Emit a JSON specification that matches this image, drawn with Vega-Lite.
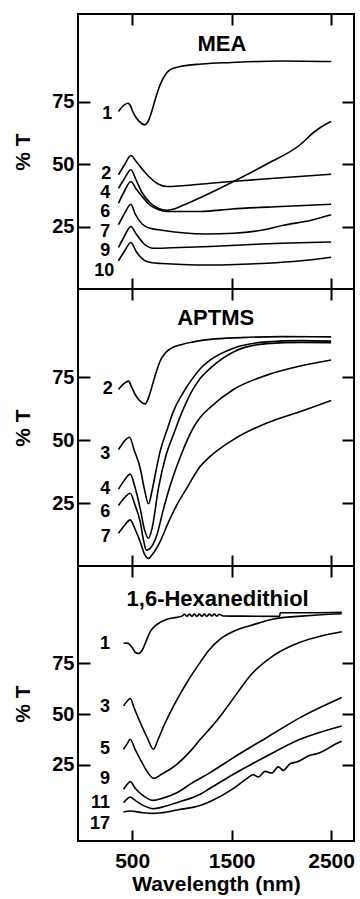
{
  "$schema": "https://vega.github.io/schema/vega-lite/v6.json",
  "background": "white",
  "padding": {"left": 11, "top": 12, "right": 0, "bottom": 0},
  "spacing": 0,
  "bounds": "flush",
  "config": {
    "view": {"stroke": "black", "strokeWidth": 2},
    "axis": {"grid": false, "domain": false, "tickColor": "black", "tickWidth": 2, "labelFont": "Liberation Sans", "labelFontWeight": "bold", "labelFontSize": 20, "labelColor": "black", "titleFont": "Liberation Sans", "titleFontWeight": "bold", "titleFontSize": 21, "titleColor": "black", "format": "d"}
  },
  "datasets": {
    "mea": [
      {"c":"1","x":362,"y":71},{"c":"1","x":410,"y":73.3},{"c":"1","x":455,"y":74.3},{"c":"1","x":480,"y":73.5},{"c":"1","x":505,"y":71},{"c":"1","x":540,"y":68.5},{"c":"1","x":585,"y":66.5},{"c":"1","x":625,"y":65.7},{"c":"1","x":660,"y":67},{"c":"1","x":700,"y":71.5},{"c":"1","x":740,"y":77},{"c":"1","x":781,"y":81.7},{"c":"1","x":830,"y":85.5},{"c":"1","x":880,"y":87.7},{"c":"1","x":982,"y":89},{"c":"1","x":1200,"y":90},{"c":"1","x":1500,"y":90.6},{"c":"1","x":2000,"y":91.2},{"c":"1","x":2500,"y":91},
      {"c":"2","x":362,"y":45.7},{"c":"2","x":420,"y":49.5},{"c":"2","x":487,"y":53.4},{"c":"2","x":540,"y":51},{"c":"2","x":600,"y":48},{"c":"2","x":680,"y":44.5},{"c":"2","x":760,"y":42},{"c":"2","x":849,"y":41},{"c":"2","x":1000,"y":41.3},{"c":"2","x":1284,"y":42.3},{"c":"2","x":1600,"y":43.3},{"c":"2","x":2000,"y":44.5},{"c":"2","x":2500,"y":45.9},
      {"c":"4","x":362,"y":40.3},{"c":"4","x":420,"y":44},{"c":"4","x":487,"y":47.7},{"c":"4","x":540,"y":43.5},{"c":"4","x":600,"y":38.5},{"c":"4","x":680,"y":34.5},{"c":"4","x":760,"y":32.3},{"c":"4","x":850,"y":31.5},{"c":"4","x":900,"y":31.8},{"c":"4","x":1000,"y":33.3},{"c":"4","x":1183,"y":36.5},{"c":"4","x":1518,"y":43},{"c":"4","x":1854,"y":50},{"c":"4","x":2188,"y":57.7},{"c":"4","x":2320,"y":62.5},{"c":"4","x":2400,"y":64.8},{"c":"4","x":2500,"y":67},
      {"c":"6","x":362,"y":34.3},{"c":"6","x":420,"y":39},{"c":"6","x":487,"y":43},{"c":"6","x":540,"y":40},{"c":"6","x":600,"y":37},{"c":"6","x":680,"y":33.5},{"c":"6","x":760,"y":31.8},{"c":"6","x":850,"y":31},{"c":"6","x":1183,"y":31},{"c":"6","x":1500,"y":32},{"c":"6","x":2000,"y":33},{"c":"6","x":2500,"y":33.9},
      {"c":"7","x":362,"y":25.7},{"c":"7","x":420,"y":30},{"c":"7","x":487,"y":33.9},{"c":"7","x":530,"y":30},{"c":"7","x":600,"y":26},{"c":"7","x":681,"y":24.3},{"c":"7","x":800,"y":23.5},{"c":"7","x":1000,"y":22.5},{"c":"7","x":1250,"y":22},{"c":"7","x":1518,"y":22.3},{"c":"7","x":1800,"y":23.5},{"c":"7","x":2020,"y":25.5},{"c":"7","x":2300,"y":27.5},{"c":"7","x":2500,"y":29.7},
      {"c":"9","x":362,"y":16.6},{"c":"9","x":420,"y":21},{"c":"9","x":487,"y":25},{"c":"9","x":540,"y":22},{"c":"9","x":620,"y":18},{"c":"9","x":714,"y":16.3},{"c":"9","x":900,"y":16.5},{"c":"9","x":1284,"y":17},{"c":"9","x":1800,"y":18},{"c":"9","x":2500,"y":18.8},
      {"c":"10","x":362,"y":11.3},{"c":"10","x":420,"y":15},{"c":"10","x":487,"y":18.6},{"c":"10","x":540,"y":15},{"c":"10","x":620,"y":11.5},{"c":"10","x":700,"y":10.5},{"c":"10","x":800,"y":10.2},{"c":"10","x":1000,"y":9.8},{"c":"10","x":1300,"y":9.6},{"c":"10","x":1600,"y":9.9},{"c":"10","x":1854,"y":10.3},{"c":"10","x":2200,"y":11.3},{"c":"10","x":2500,"y":12.7}
    ],
    "aptms": [
      {"c":"2","x":362,"y":70.1},{"c":"2","x":420,"y":72.5},{"c":"2","x":463,"y":73.4},{"c":"2","x":495,"y":71},{"c":"2","x":530,"y":68.1},{"c":"2","x":580,"y":65.5},{"c":"2","x":631,"y":64.4},{"c":"2","x":670,"y":67.5},{"c":"2","x":714,"y":73.4},{"c":"2","x":750,"y":78},{"c":"2","x":781,"y":81.4},{"c":"2","x":830,"y":84.5},{"c":"2","x":882,"y":86.2},{"c":"2","x":1000,"y":88},{"c":"2","x":1116,"y":89},{"c":"2","x":1284,"y":90},{"c":"2","x":1600,"y":90.7},{"c":"2","x":2000,"y":91.1},{"c":"2","x":2500,"y":91},
      {"c":"3","x":362,"y":46.2},{"c":"3","x":420,"y":49.5},{"c":"3","x":473,"y":51.1},{"c":"3","x":520,"y":46},{"c":"3","x":580,"y":38.9},{"c":"3","x":620,"y":31},{"c":"3","x":664,"y":24.7},{"c":"3","x":700,"y":30},{"c":"3","x":740,"y":38},{"c":"3","x":781,"y":45.5},{"c":"3","x":850,"y":54},{"c":"3","x":915,"y":61.5},{"c":"3","x":1000,"y":68},{"c":"3","x":1116,"y":75},{"c":"3","x":1200,"y":79},{"c":"3","x":1284,"y":81.8},{"c":"3","x":1518,"y":86.5},{"c":"3","x":1854,"y":89},{"c":"3","x":2200,"y":89.5},{"c":"3","x":2500,"y":89.3},
      {"c":"4","x":362,"y":30.5},{"c":"4","x":420,"y":34},{"c":"4","x":480,"y":36.5},{"c":"4","x":530,"y":31},{"c":"4","x":580,"y":22.9},{"c":"4","x":620,"y":15},{"c":"4","x":664,"y":11},{"c":"4","x":700,"y":15},{"c":"4","x":764,"y":30.9},{"c":"4","x":840,"y":44},{"c":"4","x":915,"y":52.2},{"c":"4","x":1000,"y":61},{"c":"4","x":1116,"y":70.5},{"c":"4","x":1183,"y":74.5},{"c":"4","x":1284,"y":78.5},{"c":"4","x":1518,"y":85},{"c":"4","x":1854,"y":88.3},{"c":"4","x":2200,"y":88.8},{"c":"4","x":2500,"y":88.7},
      {"c":"6","x":362,"y":24},{"c":"6","x":420,"y":27},{"c":"6","x":480,"y":28.9},{"c":"6","x":530,"y":24},{"c":"6","x":580,"y":17.6},{"c":"6","x":615,"y":10},{"c":"6","x":641,"y":6.3},{"c":"6","x":680,"y":7},{"c":"6","x":748,"y":12.3},{"c":"6","x":810,"y":22},{"c":"6","x":882,"y":32},{"c":"6","x":1000,"y":45},{"c":"6","x":1116,"y":55},{"c":"6","x":1183,"y":59},{"c":"6","x":1284,"y":63},{"c":"6","x":1518,"y":70.1},{"c":"6","x":1854,"y":75.8},{"c":"6","x":2200,"y":79.5},{"c":"6","x":2500,"y":81.8},
      {"c":"7","x":362,"y":13},{"c":"7","x":420,"y":16},{"c":"7","x":480,"y":18.3},{"c":"7","x":530,"y":14.5},{"c":"7","x":580,"y":9.7},{"c":"7","x":620,"y":5},{"c":"7","x":664,"y":3},{"c":"7","x":700,"y":4.5},{"c":"7","x":781,"y":9.7},{"c":"7","x":860,"y":17},{"c":"7","x":949,"y":24.3},{"c":"7","x":1050,"y":31},{"c":"7","x":1116,"y":35.5},{"c":"7","x":1183,"y":39.5},{"c":"7","x":1284,"y":43.5},{"c":"7","x":1518,"y":50.2},{"c":"7","x":1854,"y":56.8},{"c":"7","x":2200,"y":61.5},{"c":"7","x":2500,"y":65.7}
    ],
    "hdt": [
      {"c":"1","x":413,"y":84.9},{"c":"1","x":450,"y":85},{"c":"1","x":490,"y":83.5},{"c":"1","x":530,"y":80.5},{"c":"1","x":563,"y":79.9},{"c":"1","x":600,"y":81.5},{"c":"1","x":640,"y":86},{"c":"1","x":680,"y":90.5},{"c":"1","x":730,"y":93.5},{"c":"1","x":781,"y":95.2},{"c":"1","x":850,"y":96.8},{"c":"1","x":949,"y":97.7},{"c":"1","x":1000,"y":98.3},{"c":"1","x":1025,"y":99.2},{"c":"1","x":1050,"y":98.2},{"c":"1","x":1075,"y":99.3},{"c":"1","x":1100,"y":98.2},{"c":"1","x":1125,"y":99.3},{"c":"1","x":1150,"y":98.2},{"c":"1","x":1175,"y":99.3},{"c":"1","x":1200,"y":98.2},{"c":"1","x":1225,"y":99.3},{"c":"1","x":1250,"y":98.2},{"c":"1","x":1275,"y":99.3},{"c":"1","x":1300,"y":98.3},{"c":"1","x":1325,"y":99.3},{"c":"1","x":1350,"y":98.3},{"c":"1","x":1375,"y":99.2},{"c":"1","x":1414,"y":98.4},{"c":"1","x":1600,"y":98.3},{"c":"1","x":1980,"y":98.2},{"c":"1","x":1990,"y":100},{"c":"1","x":2300,"y":100},{"c":"1","x":2607,"y":100.2},
      {"c":"3","x":413,"y":54.1},{"c":"3","x":450,"y":56.5},{"c":"3","x":480,"y":57.7},{"c":"3","x":520,"y":53},{"c":"3","x":580,"y":46},{"c":"3","x":650,"y":38.5},{"c":"3","x":714,"y":32.7},{"c":"3","x":760,"y":37.5},{"c":"3","x":820,"y":44.5},{"c":"3","x":882,"y":50.8},{"c":"3","x":960,"y":58},{"c":"3","x":1050,"y":65.6},{"c":"3","x":1183,"y":75.5},{"c":"3","x":1267,"y":81.3},{"c":"3","x":1384,"y":87},{"c":"3","x":1550,"y":91.5},{"c":"3","x":1686,"y":93.6},{"c":"3","x":1920,"y":96.9},{"c":"3","x":2200,"y":98.3},{"c":"3","x":2400,"y":99},{"c":"3","x":2607,"y":99.5},
      {"c":"5","x":413,"y":32.7},{"c":"5","x":450,"y":35.5},{"c":"5","x":480,"y":37.6},{"c":"5","x":530,"y":32.5},{"c":"5","x":600,"y":26},{"c":"5","x":660,"y":21},{"c":"5","x":714,"y":18.4},{"c":"5","x":800,"y":20.5},{"c":"5","x":949,"y":25.3},{"c":"5","x":1116,"y":33.5},{"c":"5","x":1183,"y":37.5},{"c":"5","x":1284,"y":43},{"c":"5","x":1401,"y":50},{"c":"5","x":1550,"y":60},{"c":"5","x":1686,"y":68.9},{"c":"5","x":1920,"y":78.8},{"c":"5","x":2188,"y":85.4},{"c":"5","x":2400,"y":88.5},{"c":"5","x":2607,"y":90.6},
      {"c":"9","x":413,"y":13},{"c":"9","x":450,"y":15.5},{"c":"9","x":480,"y":16.8},{"c":"9","x":530,"y":13.5},{"c":"9","x":620,"y":9.5},{"c":"9","x":714,"y":7.5},{"c":"9","x":800,"y":8.5},{"c":"9","x":949,"y":11.3},{"c":"9","x":1100,"y":16},{"c":"9","x":1284,"y":21.2},{"c":"9","x":1518,"y":28.6},{"c":"9","x":1854,"y":38.5},{"c":"9","x":2188,"y":48.3},{"c":"9","x":2607,"y":58.2},
      {"c":"11","x":413,"y":6.4},{"c":"11","x":450,"y":8.3},{"c":"11","x":480,"y":9.2},{"c":"11","x":530,"y":7.5},{"c":"11","x":620,"y":4.8},{"c":"11","x":714,"y":3.4},{"c":"11","x":800,"y":4.2},{"c":"11","x":949,"y":6.4},{"c":"11","x":1183,"y":10.5},{"c":"11","x":1284,"y":13.5},{"c":"11","x":1518,"y":20.4},{"c":"11","x":1854,"y":29.4},{"c":"11","x":2188,"y":37.6},{"c":"11","x":2607,"y":44.2},
      {"c":"17","x":413,"y":1.8},{"c":"17","x":480,"y":2.3},{"c":"17","x":600,"y":1.5},{"c":"17","x":714,"y":1.1},{"c":"17","x":850,"y":1.8},{"c":"17","x":949,"y":2.8},{"c":"17","x":1183,"y":5},{"c":"17","x":1284,"y":7},{"c":"17","x":1516,"y":13.3},{"c":"17","x":1651,"y":18.2},{"c":"17","x":1718,"y":20.2},{"c":"17","x":1768,"y":19},{"c":"17","x":1835,"y":21.8},{"c":"17","x":1903,"y":21},{"c":"17","x":1969,"y":24},{"c":"17","x":2019,"y":22.3},{"c":"17","x":2087,"y":25.6},{"c":"17","x":2154,"y":26.4},{"c":"17","x":2288,"y":29.7},{"c":"17","x":2355,"y":30.5},{"c":"17","x":2438,"y":32.2},{"c":"17","x":2522,"y":34.7},{"c":"17","x":2606,"y":36.6}
    ],
    "lab1": [
      {"x":300,"y":70,"t":"1"},{"x":290,"y":46,"t":"2"},{"x":280,"y":38.6,"t":"4"},{"x":280,"y":31,"t":"6"},{"x":280,"y":23,"t":"7"},{"x":280,"y":15.3,"t":"9"},{"x":320,"y":7.3,"t":"10"}
    ],
    "lab2": [
      {"x":305,"y":70.1,"t":"2"},{"x":280,"y":44.4,"t":"3"},{"x":280,"y":30.6,"t":"4"},{"x":280,"y":21.6,"t":"6"},{"x":285,"y":11.7,"t":"7"}
    ],
    "lab3": [
      {"x":278,"y":84.5,"t":"1"},{"x":278,"y":53.3,"t":"3"},{"x":278,"y":32.7,"t":"5"},{"x":278,"y":17.9,"t":"9"},{"x":278,"y":6.4,"t":"11"},{"x":278,"y":-4.3,"t":"17"}
    ]
  },
  "vconcat": [
    {
      "width": 276, "height": 275,
      "layer": [
        {
          "data": {"name": "mea"},
          "mark": {"type": "line", "color": "black", "strokeWidth": 1.6, "interpolate": "monotone"},
          "encoding": {
            "x": {"field": "x", "type": "quantitative", "scale": {"domain": [-45, 2730], "nice": false}, "axis": {"orient": "bottom", "values": [500, 1500, 2500], "labels": false, "title": null, "tickSize": -11}},
            "y": {"field": "y", "type": "quantitative", "scale": {"domain": [0, 110], "nice": false}, "axis": {"orient": "left", "values": [25, 50, 75], "tickSize": -12, "labelPadding": 16, "title": "% T", "titlePadding": 18}},
            "detail": {"field": "c"}
          }
        },
        {
          "data": {"name": "lab1"},
          "mark": {"type": "text", "align": "right", "baseline": "middle", "font": "Liberation Sans", "fontWeight": "bold", "fontSize": 18, "color": "black"},
          "encoding": {
            "x": {"field": "x", "type": "quantitative", "scale": {"domain": [-45, 2730], "nice": false}, "axis": {"orient": "top", "values": [500, 1500, 2500], "labels": false, "title": null, "tickSize": -11}},
            "y": {"field": "y", "type": "quantitative", "scale": {"domain": [0, 110], "nice": false}, "axis": {"orient": "right", "values": [25, 50, 75], "labels": false, "title": null, "tickSize": -12}},
            "text": {"field": "t"}
          }
        },
        {
          "data": {"values": [{"x": 1401, "y": 98, "t": "MEA"}]},
          "mark": {"type": "text", "align": "center", "baseline": "middle", "font": "Liberation Sans", "fontWeight": "bold", "fontSize": 22, "color": "black"},
          "encoding": {
            "x": {"field": "x", "type": "quantitative", "axis": null},
            "y": {"field": "y", "type": "quantitative", "axis": null},
            "text": {"field": "t"}
          }
        }
      ],
      "resolve": {"axis": {"x": "independent", "y": "independent"}}
    },
    {
      "width": 276, "height": 277,
      "layer": [
        {
          "data": {"name": "aptms"},
          "mark": {"type": "line", "color": "black", "strokeWidth": 1.6, "interpolate": "monotone"},
          "encoding": {
            "x": {"field": "x", "type": "quantitative", "scale": {"domain": [-45, 2730], "nice": false}, "axis": {"orient": "bottom", "values": [500, 1500, 2500], "labels": false, "title": null, "tickSize": -11}},
            "y": {"field": "y", "type": "quantitative", "scale": {"domain": [0, 110], "nice": false}, "axis": {"orient": "left", "values": [25, 50, 75], "tickSize": -12, "labelPadding": 16, "title": "% T", "titlePadding": 18}},
            "detail": {"field": "c"}
          }
        },
        {
          "data": {"name": "lab2"},
          "mark": {"type": "text", "align": "right", "baseline": "middle", "font": "Liberation Sans", "fontWeight": "bold", "fontSize": 18, "color": "black"},
          "encoding": {
            "x": {"field": "x", "type": "quantitative", "scale": {"domain": [-45, 2730], "nice": false}, "axis": {"orient": "top", "values": [500, 1500, 2500], "labels": false, "title": null, "tickSize": -11}},
            "y": {"field": "y", "type": "quantitative", "scale": {"domain": [0, 110], "nice": false}, "axis": {"orient": "right", "values": [25, 50, 75], "labels": false, "title": null, "tickSize": -12}},
            "text": {"field": "t"}
          }
        },
        {
          "data": {"values": [{"x": 1339, "y": 98.6, "t": "APTMS"}]},
          "mark": {"type": "text", "align": "center", "baseline": "middle", "font": "Liberation Sans", "fontWeight": "bold", "fontSize": 22, "color": "black"},
          "encoding": {
            "x": {"field": "x", "type": "quantitative", "axis": null},
            "y": {"field": "y", "type": "quantitative", "axis": null},
            "text": {"field": "t"}
          }
        }
      ],
      "resolve": {"axis": {"x": "independent", "y": "independent"}}
    },
    {
      "width": 276, "height": 275,
      "layer": [
        {
          "data": {"name": "hdt"},
          "mark": {"type": "line", "color": "black", "strokeWidth": 1.6, "interpolate": "monotone"},
          "encoding": {
            "x": {"field": "x", "type": "quantitative", "scale": {"domain": [-45, 2730], "nice": false}, "axis": {"orient": "bottom", "values": [500, 1500, 2500], "labelPadding": 20, "title": "Wavelength (nm)", "titlePadding": 2, "tickSize": -11, "labelFontSize": 21, "format": "d"}},
            "y": {"field": "y", "type": "quantitative", "scale": {"domain": [-12.5, 123], "nice": false}, "axis": {"orient": "left", "values": [25, 50, 75], "tickSize": -12, "labelPadding": 16, "title": "% T", "titlePadding": 18}},
            "detail": {"field": "c"}
          }
        },
        {
          "data": {"name": "lab3"},
          "mark": {"type": "text", "align": "right", "baseline": "middle", "font": "Liberation Sans", "fontWeight": "bold", "fontSize": 18, "color": "black"},
          "encoding": {
            "x": {"field": "x", "type": "quantitative", "scale": {"domain": [-45, 2730], "nice": false}, "axis": {"orient": "top", "values": [500, 1500, 2500], "labels": false, "title": null, "tickSize": -11}},
            "y": {"field": "y", "type": "quantitative", "scale": {"domain": [-12.5, 123], "nice": false}, "axis": {"orient": "right", "values": [25, 50, 75], "labels": false, "title": null, "tickSize": -12}},
            "text": {"field": "t"}
          }
        },
        {
          "data": {"values": [{"x": 1359, "y": 106.5, "t": "1,6-Hexanedithiol"}]},
          "mark": {"type": "text", "align": "center", "baseline": "middle", "font": "Liberation Sans", "fontWeight": "bold", "fontSize": 22, "color": "black"},
          "encoding": {
            "x": {"field": "x", "type": "quantitative", "axis": null},
            "y": {"field": "y", "type": "quantitative", "axis": null},
            "text": {"field": "t"}
          }
        }
      ],
      "resolve": {"axis": {"x": "independent", "y": "independent"}}
    }
  ]
}
